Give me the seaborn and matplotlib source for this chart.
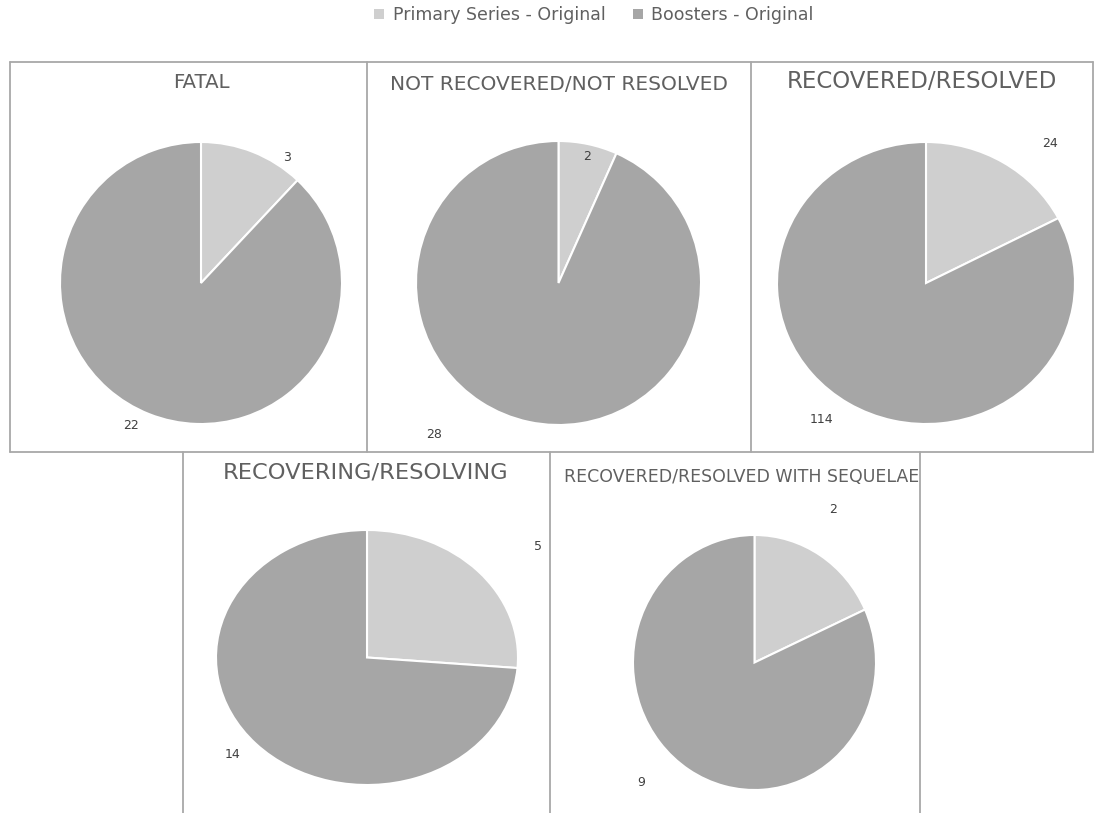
import matplotlib
matplotlib.use("Agg")
import matplotlib.pyplot as plt
from matplotlib.patches import Patch
from matplotlib.lines import Line2D
import seaborn as sns

sns.set_theme(style="white")
plt.rcParams["font.family"] = ["DejaVu Sans"]

# Outcome categories and counts per vaccine group
outcomes = [
    "FATAL",
    "NOT RECOVERED/NOT RESOLVED",
    "RECOVERED/RESOLVED",
    "RECOVERING/RESOLVING",
    "RECOVERED/RESOLVED WITH SEQUELAE",
]
series_names = ["Primary Series - Original", "Boosters - Original"]
primary_series = [3, 2, 24, 5, 2]
boosters = [22, 28, 114, 14, 9]

colors = ["#cfcfcf", "#a6a6a6"]
text_gray = "#606060"
line_gray = "#a8a8a8"

W, H = 1094, 813
fig = plt.figure(figsize=(W / 100, H / 100), dpi=100)


def fx(px):
    return px / W


def fy(py):
    return 1 - py / H


# Layout for each panel: pie bounding box (px), title centre (px), title size,
# and where the two value labels sit relative to the pie (unit radius)
layout = [
    dict(pie=(60, 142, 342, 424), title=(201, 82), size=14.2,
         lab=[(0.61, 0.89), (-0.50, -1.01)]),
    dict(pie=(416, 141, 701, 425), title=(559, 84), size=14.5,
         lab=[(0.20, 0.89), (-0.87, -1.07)]),
    dict(pie=(777, 142, 1075, 424), title=(922, 81), size=16.5,
         lab=[(0.83, 0.99), (-0.70, -0.97)]),
    dict(pie=(216, 530, 518, 785), title=(366, 472), size=16.2,
         lab=[(1.13, 0.87), (-0.89, -0.76)]),
    dict(pie=(633, 535, 876, 790), title=(742, 477), size=12.5,
         lab=[(0.65, 1.20), (-0.93, -0.94)]),
]

for name, p, b, lay in zip(outcomes, primary_series, boosters, layout):
    x0, y0, x1, y1 = lay["pie"]
    ax = fig.add_axes([fx(x0), fy(y1), fx(x1 - x0), (y1 - y0) / H])
    wedges, texts = ax.pie(
        [p, b],
        labels=[str(p), str(b)],
        colors=colors,
        startangle=90,
        counterclock=False,
        wedgeprops=dict(edgecolor="white", linewidth=1.5),
        textprops=dict(color="#404040", fontsize=9),
    )
    for t, pos in zip(texts, lay["lab"]):
        t.set_position(pos)
        t.set_ha("center")
        t.set_va("center")
    ax.set_aspect("auto")
    ax.set_xlim(-1, 1)
    ax.set_ylim(-1, 1)
    ax.axis("off")
    tx, ty = lay["title"]
    fig.text(fx(tx), fy(ty), name, ha="center", va="center",
             fontsize=lay["size"], color=text_gray)

# Panel borders
segments = [
    # top row
    ((10, 62), (1093, 62)),
    ((10, 62), (10, 452)),
    ((367, 62), (367, 452)),
    ((751, 62), (751, 452)),
    ((1093, 62), (1093, 452)),
    ((10, 452), (1093, 452)),
    # bottom row
    ((183, 452), (183, 813)),
    ((550, 452), (550, 813)),
    ((920, 452), (920, 813)),
]
for (xa, ya), (xb, yb) in segments:
    fig.add_artist(Line2D([fx(xa), fx(xb)], [fy(ya), fy(yb)],
                          color=line_gray, linewidth=1.3,
                          transform=fig.transFigure))

handles = [Patch(facecolor=c, edgecolor="none") for c in colors]
fig.legend(handles, series_names, loc="center", bbox_to_anchor=(fx(594), fy(15)),
           ncol=2, frameon=False, fontsize=12.5, labelcolor=text_gray,
           handlelength=0.55, handleheight=0.55, columnspacing=1.6, handletextpad=0.5)

fig.savefig("out.png", dpi=100)
